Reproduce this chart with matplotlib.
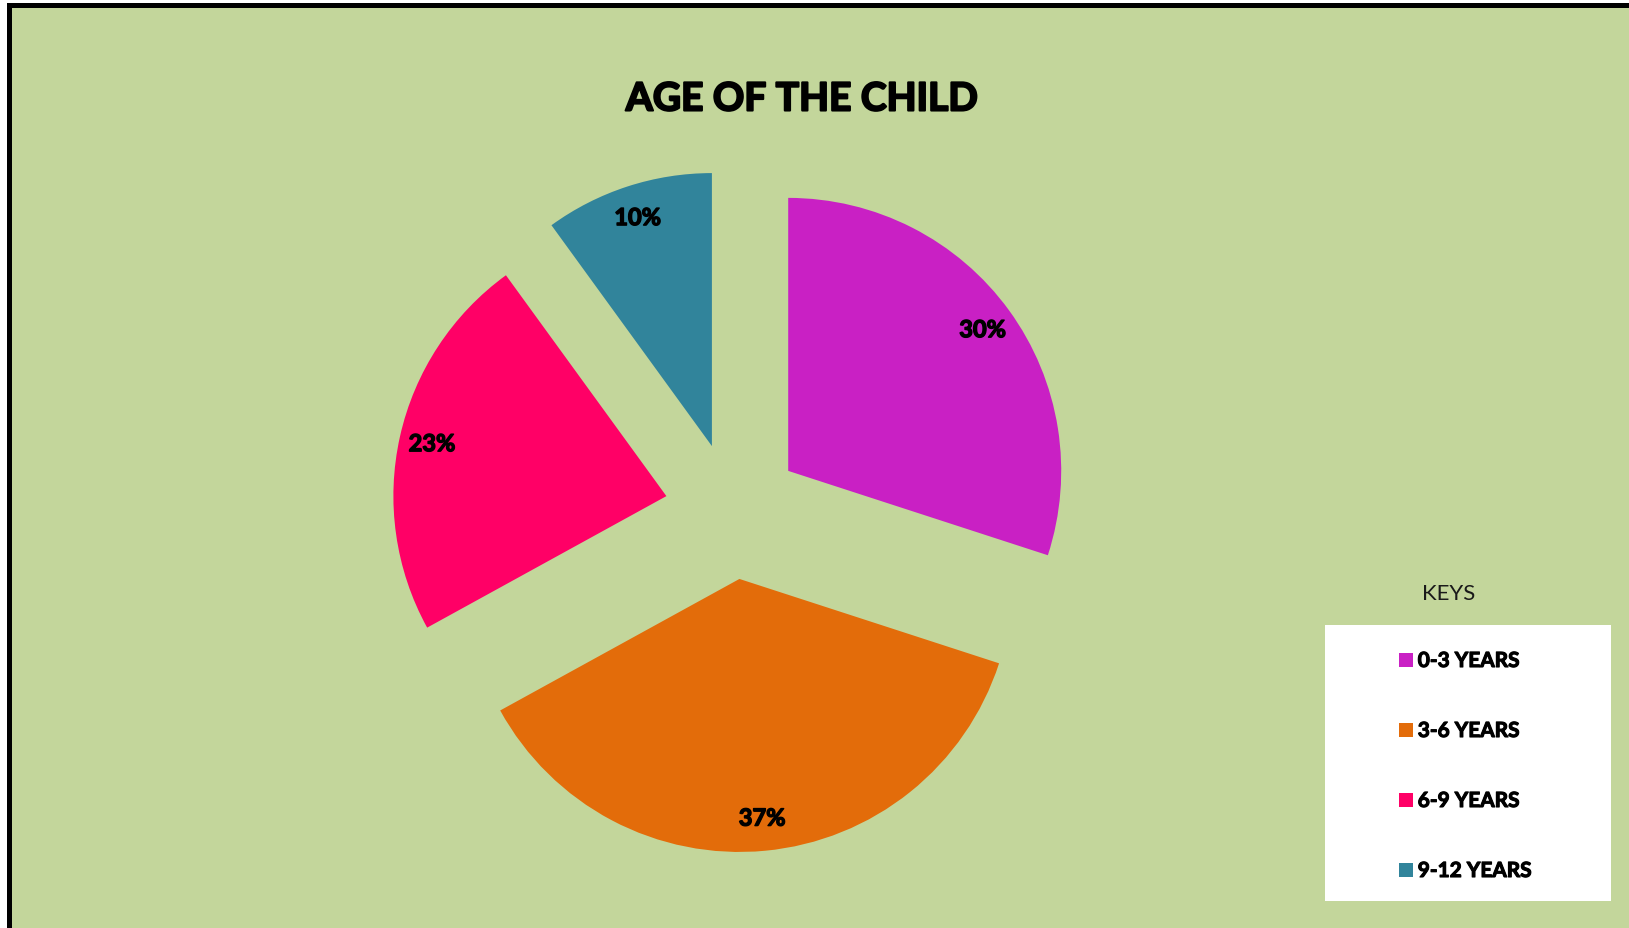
import matplotlib.pyplot as plt
from matplotlib.patches import Rectangle
import matplotlib.patheffects as pe

# data
age_groups = ["0-3 YEARS", "3-6 YEARS", "6-9 YEARS", "9-12 YEARS"]
shares = [30, 37, 23, 10]
slice_colors = ["#C920C4", "#E36C0A", "#FF0066", "#31849B"]

W, H = 1629, 929
bg = "#C3D69B"
plt.rcParams['font.family'] = ['Lato', 'DejaVu Sans']

fig = plt.figure(figsize=(W / 100, H / 100), dpi=100, facecolor="white")


def px_rect(x0, y0, x1, y1, **kw):
    # pixel box measured from the top-left corner
    fig.add_artist(Rectangle((x0 / W, 1 - y1 / H), (x1 - x0) / W, (y1 - y0) / H,
                             transform=fig.transFigure, **kw))


# green panel with black top/left border (behind everything)
px_rect(7, 4, W, H, facecolor="black", edgecolor="none", zorder=-10)
px_rect(12, 9, W, H, facecolor=bg, edgecolor="none", zorder=-9)

# pie: centre (733, 512) px, radius 273 px
cx, cy, r = 733, 512, 273
L = 1.4
ax = fig.add_axes([(cx - L * r) / W, 1 - (cy + L * r) / H, 2 * L * r / W, 2 * L * r / H])
ax.set_zorder(1)
ax.patch.set_visible(False)
wedges, texts, autotexts = ax.pie(
    shares, colors=slice_colors, startangle=90, counterclock=False,
    explode=[0.25] * len(shares), autopct='%d%%', pctdistance=0.88,
    textprops=dict(fontsize=17, fontweight='bold', color='black'))
for t in autotexts:
    t.set_path_effects([pe.withStroke(linewidth=1.0, foreground='black')])
ax.set_xlim(-L, L)
ax.set_ylim(-L, L)
ax.set_aspect('equal')
ax.axis('off')

# title
fig.text(802 / W, 1 - 100 / H, "AGE OF THE CHILD", ha='center', va='center',
         fontsize=28, fontweight='bold', color='black',
         path_effects=[pe.withStroke(linewidth=1.5, foreground='black')])

# legend box and key title
px_rect(1325, 626, 1611, 902, facecolor="white", edgecolor="none", zorder=-5)
fig.text(1449 / W, 1 - 594 / H, "KEYS", ha='center', va='center',
         fontsize=16, color='#1a1a1a')
leg = fig.legend(wedges, age_groups, loc='upper left',
                 bbox_to_anchor=(1399 / W, 1 - 652 / H), frameon=False,
                 prop=dict(size=15, weight='bold'), handlelength=0.65,
                 handleheight=0.65, handletextpad=0.25, labelspacing=2.4,
                 borderpad=0, borderaxespad=0)
for t in leg.get_texts():
    t.set_path_effects([pe.withStroke(linewidth=0.8, foreground='black')])

fig.savefig("out.png", dpi=100, facecolor=fig.get_facecolor())
